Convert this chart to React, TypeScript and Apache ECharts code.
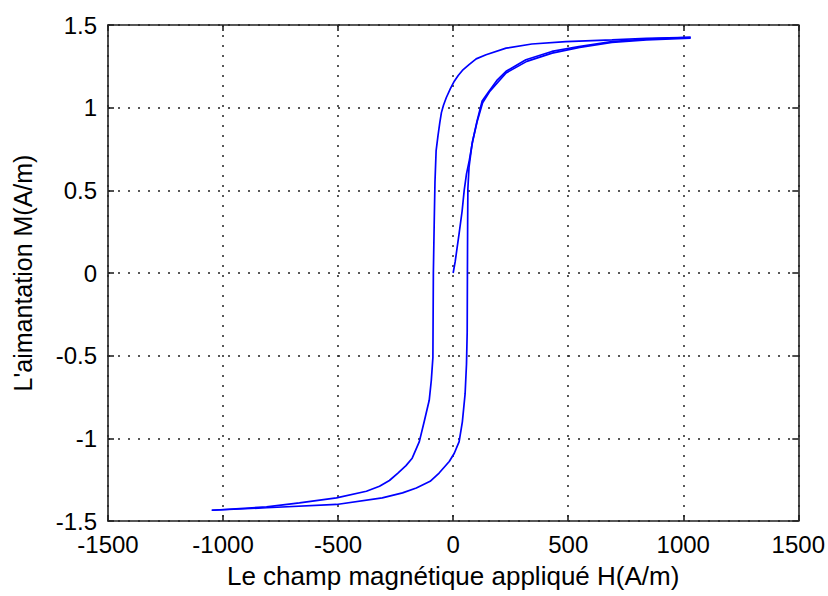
import React, { useEffect, useRef } from "react";
import * as echarts from "echarts";

// Initial magnetization curve (H in A/m, M)
const initialH = [0, 9, 17, 26, 39, 48, 58, 70, 85, 105, 128, 160, 230, 320, 430, 550, 690, 840, 1032];
const initialM = [0, 0.07, 0.15, 0.24, 0.375, 0.5, 0.6, 0.68, 0.8, 0.92, 1.03, 1.1, 1.21, 1.28, 1.33, 1.365, 1.395, 1.41, 1.42];

// Descending branch (from +Hmax to -Hmax)
const descH = [1032, 840, 690, 490, 342, 230, 143, 100, 69, 40, 22, 5, -12, -30, -42, -51, -58, -66, -74, -79, -82, -86, -88, -95, -104, -126, -147, -178, -205, -240, -277, -320, -377, -507, -668, -811, -1049];
const descM = [1.425, 1.42, 1.41, 1.4, 1.385, 1.36, 1.32, 1.295, 1.26, 1.225, 1.195, 1.16, 1.115, 1.06, 1.015, 0.97, 0.91, 0.83, 0.74, 0.55, 0.33, 0, -0.51, -0.65, -0.77, -0.9, -1.02, -1.12, -1.165, -1.21, -1.255, -1.29, -1.32, -1.36, -1.39, -1.415, -1.435];

// Ascending branch (from -Hmax to +Hmax)
const ascH = [-1049, -811, -507, -308, -220, -160, -100, -61, -17, 5, 26, 40, 52, 58, 61, 62, 63, 64, 69, 82, 104, 126, 156, 190, 230, 316, 429, 546, 689, 836, 1032];
const ascM = [-1.435, -1.42, -1.4, -1.36, -1.33, -1.3, -1.26, -1.21, -1.14, -1.09, -1.02, -0.9, -0.73, -0.55, -0.36, 0, 0.3, 0.51, 0.64, 0.78, 0.92, 1.04, 1.1, 1.165, 1.22, 1.29, 1.34, 1.37, 1.4, 1.415, 1.425];

const xTicks = { min: -1500, max: 1500, interval: 500 };
const yTicks = { min: -1.5, max: 1.5, interval: 0.5 };

const xTitle = "Le champ magnétique appliqué H(A/m)";
const yTitle = "L'aimantation M(A/m)";

const zip = (h: number[], m: number[]) => h.map((v, i) => [v, m[i]]);

export default function App() {
  const ref = useRef<HTMLDivElement>(null);
  useEffect(() => {
    if (!ref.current) return;
    const chart = echarts.init(ref.current, null, { renderer: "svg" });
    const font = "'Liberation Sans', Arial, sans-serif";
    const lineStyle = { color: "#222", width: 1.6 };
    const tickStyle = { color: "#222", width: 1.6 };
    const split = { show: true, lineStyle: { type: [2, 8] as any, color: "#222", width: 1.5 } };
    const series = [zip(initialH, initialM), zip(descH, descM), zip(ascH, ascM)].map((d) => ({
      type: "line",
      data: d,
      showSymbol: false,
      symbol: "none",
      lineStyle: { color: "#0000ff", width: 1.7 },
      xAxisIndex: 0,
      yAxisIndex: 0,
    }));
    const fmt = (v: number) => String(v);
    chart.setOption({
      animation: false,
      backgroundColor: "#fff",
      grid: { left: 108, right: 29, top: 25, bottom: 75, containLabel: false },
      xAxis: [
        {
          type: "value",
          ...xTicks,
          position: "bottom",
          name: xTitle,
          nameLocation: "middle",
          nameGap: 42,
          nameTextStyle: { fontFamily: font, fontSize: 26, color: "#000" },
          axisLine: { show: true, onZero: false, lineStyle },
          axisTick: { show: true, inside: true, length: 6, lineStyle: tickStyle },
          axisLabel: { fontFamily: font, fontSize: 24, lineHeight: 22, color: "#000", margin: 12, formatter: fmt },
          splitLine: split,
        },
        {
          type: "value",
          ...xTicks,
          position: "top",
          axisLine: { show: true, onZero: false, lineStyle },
          axisTick: { show: true, inside: true, length: 6, lineStyle: tickStyle },
          axisLabel: { show: false },
          splitLine: { show: false },
        },
      ],
      yAxis: [
        {
          type: "value",
          ...yTicks,
          position: "left",
          name: yTitle,
          nameLocation: "middle",
          nameGap: 73,
          nameRotate: 90,
          nameTextStyle: { fontFamily: font, fontSize: 25, color: "#000" },
          axisLine: { show: true, onZero: false, lineStyle },
          axisTick: { show: true, inside: true, length: 6, lineStyle: tickStyle },
          axisLabel: { fontFamily: font, fontSize: 24, lineHeight: 20, color: "#000", margin: 11, formatter: fmt },
          splitLine: split,
        },
        {
          type: "value",
          ...yTicks,
          position: "right",
          axisLine: { show: true, onZero: false, lineStyle },
          axisTick: { show: true, inside: true, length: 6, lineStyle: tickStyle },
          axisLabel: { show: false },
          splitLine: { show: false },
        },
      ],
      series,
    });
    return () => chart.dispose();
  }, []);
  return (
    <div
      ref={ref}
      style={{ position: "fixed", left: 0, top: 0, width: 828, height: 596 }}
    />
  );
}
